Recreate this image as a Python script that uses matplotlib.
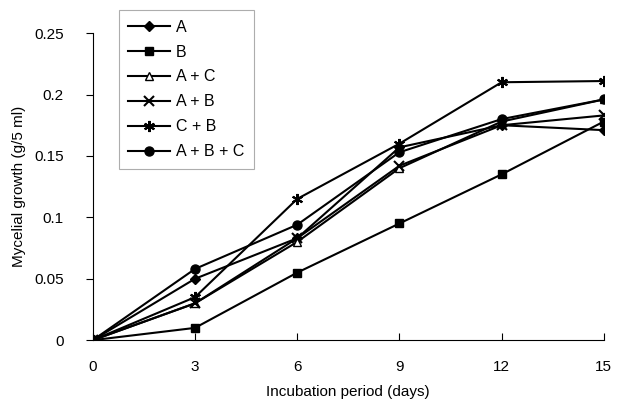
import matplotlib
matplotlib.use("Agg")
import matplotlib.pyplot as plt

days = [0, 3, 6, 9, 12, 15]
labels = ["A", "B", "A + C", "A + B", "C + B", "A + B + C"]
A = [0, 0.05, 0.083, 0.157, 0.175, 0.171]
B = [0, 0.01, 0.055, 0.095, 0.135, 0.178]
AC = [0, 0.03, 0.08, 0.14, 0.178, 0.196]
AB = [0, 0.03, 0.083, 0.142, 0.175, 0.183]
CB = [0, 0.035, 0.115, 0.16, 0.21, 0.211]
ABC = [0, 0.058, 0.094, 0.153, 0.18, 0.196]
yticks = [0, 0.05, 0.1, 0.15, 0.2, 0.25]
yticklabels = ["0", "0.05", "0.1", "0.15", "0.2", "0.25"]

plt.rcParams['font.family'] = ['Liberation Sans', 'DejaVu Sans']
fig = plt.figure(figsize=(6.27, 4.04), dpi=100)
ax = fig.add_axes([0.148, 0.158, 0.815, 0.76])

styles = [
    dict(marker='D', ms=5, mfc='black'),
    dict(marker='s', ms=6, mfc='black'),
    dict(marker='^', ms=6, mfc='white'),
    dict(marker='x', ms=7, mew=1.5),
    dict(marker=(6, 2, 0), ms=8, mew=1.5),
    dict(marker='o', ms=6.5, mfc='black'),
]
for series, lab, st in zip([A, B, AC, AB, CB, ABC], labels, styles):
    ax.plot(days, series, color='black', lw=1.5, mec='black', label=lab, **st)

ax.set_xlim(0, 15)
ax.set_ylim(0, 0.25)
ax.set_xticks(days)
ax.set_yticks(yticks)
ax.set_yticklabels(yticklabels)
ax.spines['top'].set_visible(False)
ax.spines['right'].set_visible(False)
ax.tick_params(axis='x', direction='in', length=5, pad=14, labelsize=11)
ax.tick_params(axis='y', direction='out', length=5, pad=16, labelsize=11)
ax.set_xlabel("Incubation period (days)", fontsize=11, labelpad=8)
ax.set_ylabel("Mycelial growth (g/5 ml)", fontsize=11, labelpad=6)

leg = ax.legend(loc='upper left', bbox_to_anchor=(0.051, 1.075), borderaxespad=0,
                frameon=True, fancybox=False, edgecolor='#999999', fontsize=11.5,
                handlelength=2.6, handletextpad=0.35, labelspacing=0.62,
                borderpad=0.6)
leg.get_frame().set_linewidth(0.8)

fig.savefig("out.png", dpi=100)
